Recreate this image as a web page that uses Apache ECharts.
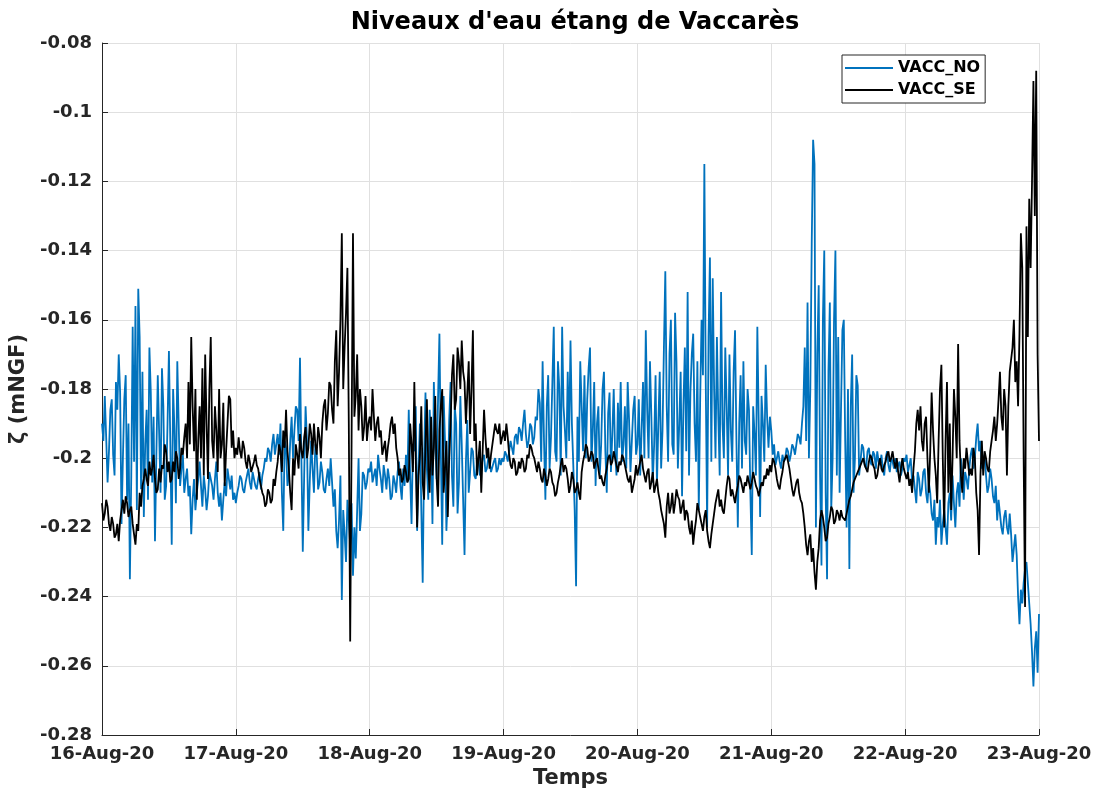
<!DOCTYPE html>
<html>
<head>
<meta charset="utf-8">
<title>Niveaux d'eau étang de Vaccarès</title>
<script src="https://cdn.jsdelivr.net/npm/echarts@6/dist/echarts.min.js"></script>
<style>
  html, body { margin: 0; padding: 0; background: #ffffff; }
  #chart { width: 1102px; height: 792px; }
</style>
</head>
<body>
<div id="chart"></div>
<script>
// Water level (m NGF) at the two Vaccarès stations, one reading every 15 minutes
// starting 16-Aug-2020 00:00 (96 readings per day, one row = 3 hours).
const STEP_HOURS = 0.25;

const DAY_LABELS = ['16-Aug-20', '17-Aug-20', '18-Aug-20', '19-Aug-20',
                    '20-Aug-20', '21-Aug-20', '22-Aug-20', '23-Aug-20'];

const VACC_NO = [
  // 16-Aug
  -0.190,-0.195,-0.182,-0.194,-0.207,-0.198,-0.186,-0.183,-0.199,-0.205,-0.178,-0.186,
  -0.170,-0.181,-0.219,-0.200,-0.183,-0.176,-0.212,-0.190,-0.235,-0.205,-0.162,-0.201,
  -0.156,-0.215,-0.151,-0.165,-0.209,-0.175,-0.217,-0.196,-0.186,-0.212,-0.168,-0.181,
  -0.207,-0.188,-0.224,-0.199,-0.176,-0.193,-0.210,-0.174,-0.185,-0.212,-0.208,-0.190,
  -0.169,-0.196,-0.225,-0.180,-0.192,-0.213,-0.172,-0.190,-0.208,-0.203,-0.199,-0.210,
  -0.206,-0.203,-0.211,-0.208,-0.222,-0.212,-0.206,-0.215,-0.210,-0.206,-0.201,-0.208,
  -0.214,-0.205,-0.209,-0.215,-0.211,-0.204,-0.206,-0.208,-0.212,-0.206,-0.201,-0.210,
  -0.214,-0.210,-0.218,-0.212,-0.207,-0.211,-0.203,-0.206,-0.209,-0.205,-0.212,-0.210,
  // 17-Aug
  -0.213,-0.210,-0.208,-0.205,-0.206,-0.209,-0.210,-0.207,-0.205,-0.203,-0.207,-0.209,
  -0.204,-0.206,-0.208,-0.209,-0.206,-0.204,-0.209,-0.205,-0.203,-0.200,-0.201,-0.197,
  -0.198,-0.201,-0.196,-0.193,-0.199,-0.196,-0.193,-0.199,-0.190,-0.210,-0.221,-0.195,
  -0.197,-0.208,-0.205,-0.195,-0.188,-0.200,-0.192,-0.185,-0.186,-0.195,-0.171,-0.200,
  -0.227,-0.205,-0.185,-0.195,-0.221,-0.207,-0.195,-0.203,-0.210,-0.196,-0.199,-0.209,
  -0.207,-0.201,-0.204,-0.209,-0.210,-0.206,-0.203,-0.208,-0.200,-0.207,-0.214,-0.209,
  -0.221,-0.226,-0.218,-0.205,-0.241,-0.215,-0.222,-0.230,-0.212,-0.218,-0.225,-0.213,
  -0.234,-0.220,-0.229,-0.215,-0.200,-0.221,-0.216,-0.204,-0.205,-0.209,-0.207,-0.203,
  // 18-Aug
  -0.204,-0.201,-0.207,-0.205,-0.203,-0.208,-0.199,-0.203,-0.206,-0.210,-0.202,-0.205,
  -0.209,-0.203,-0.206,-0.212,-0.211,-0.205,-0.207,-0.210,-0.204,-0.201,-0.208,-0.212,
  -0.203,-0.208,-0.199,-0.207,-0.186,-0.205,-0.219,-0.196,-0.198,-0.185,-0.221,-0.203,
  -0.190,-0.215,-0.236,-0.200,-0.181,-0.203,-0.212,-0.186,-0.194,-0.219,-0.178,-0.196,
  -0.206,-0.183,-0.164,-0.198,-0.225,-0.182,-0.195,-0.221,-0.210,-0.189,-0.178,-0.205,
  -0.214,-0.185,-0.190,-0.216,-0.207,-0.182,-0.196,-0.212,-0.228,-0.201,-0.189,-0.210,
  -0.204,-0.197,-0.198,-0.205,-0.206,-0.201,-0.200,-0.205,-0.203,-0.200,-0.199,-0.204,
  -0.203,-0.200,-0.201,-0.204,-0.204,-0.201,-0.200,-0.204,-0.203,-0.200,-0.202,-0.200,
  // 19-Aug
  -0.201,-0.198,-0.199,-0.201,-0.198,-0.195,-0.197,-0.199,-0.194,-0.193,-0.196,-0.191,
  -0.192,-0.195,-0.190,-0.186,-0.193,-0.197,-0.195,-0.190,-0.191,-0.196,-0.194,-0.188,
  -0.189,-0.180,-0.184,-0.201,-0.172,-0.195,-0.212,-0.185,-0.176,-0.203,-0.194,-0.178,
  -0.162,-0.198,-0.201,-0.172,-0.180,-0.205,-0.162,-0.185,-0.192,-0.200,-0.175,-0.195,
  -0.166,-0.190,-0.202,-0.215,-0.237,-0.188,-0.201,-0.172,-0.185,-0.198,-0.176,-0.200,
  -0.183,-0.174,-0.168,-0.201,-0.192,-0.178,-0.208,-0.190,-0.185,-0.205,-0.196,-0.180,
  -0.175,-0.198,-0.210,-0.187,-0.181,-0.204,-0.193,-0.180,-0.199,-0.205,-0.184,-0.197,
  -0.178,-0.201,-0.196,-0.185,-0.203,-0.178,-0.189,-0.204,-0.195,-0.186,-0.182,-0.199,
  // 20-Aug
  -0.196,-0.183,-0.205,-0.192,-0.178,-0.200,-0.163,-0.186,-0.200,-0.172,-0.188,-0.207,
  -0.196,-0.176,-0.208,-0.190,-0.175,-0.203,-0.192,-0.168,-0.146,-0.185,-0.201,-0.170,
  -0.160,-0.196,-0.199,-0.158,-0.172,-0.203,-0.190,-0.175,-0.211,-0.185,-0.168,-0.198,
  -0.152,-0.205,-0.181,-0.170,-0.164,-0.190,-0.201,-0.172,-0.215,-0.183,-0.160,-0.176,
  -0.115,-0.178,-0.220,-0.165,-0.142,-0.201,-0.148,-0.180,-0.200,-0.165,-0.188,-0.205,
  -0.152,-0.190,-0.200,-0.168,-0.185,-0.205,-0.170,-0.192,-0.201,-0.175,-0.163,-0.195,
  -0.220,-0.190,-0.176,-0.203,-0.172,-0.195,-0.199,-0.180,-0.186,-0.210,-0.228,-0.185,
  -0.193,-0.205,-0.162,-0.190,-0.217,-0.182,-0.190,-0.201,-0.173,-0.188,-0.197,-0.188,
  // 21-Aug
  -0.192,-0.199,-0.196,-0.202,-0.200,-0.198,-0.201,-0.203,-0.199,-0.201,-0.200,-0.197,
  -0.198,-0.201,-0.199,-0.196,-0.197,-0.199,-0.196,-0.193,-0.194,-0.196,-0.190,-0.185,
  -0.168,-0.195,-0.155,-0.200,-0.180,-0.138,-0.108,-0.115,-0.220,-0.170,-0.150,-0.205,
  -0.231,-0.160,-0.140,-0.210,-0.235,-0.175,-0.155,-0.215,-0.200,-0.160,-0.140,-0.205,
  -0.165,-0.210,-0.186,-0.163,-0.160,-0.195,-0.220,-0.180,-0.232,-0.185,-0.170,-0.210,
  -0.200,-0.176,-0.179,-0.205,-0.201,-0.196,-0.197,-0.202,-0.203,-0.198,-0.197,-0.201,
  -0.202,-0.198,-0.199,-0.203,-0.198,-0.201,-0.202,-0.199,-0.203,-0.205,-0.200,-0.198,
  -0.202,-0.204,-0.200,-0.201,-0.203,-0.200,-0.204,-0.202,-0.201,-0.205,-0.203,-0.200,
  // 22-Aug
  -0.201,-0.199,-0.204,-0.202,-0.200,-0.207,-0.205,-0.209,-0.213,-0.204,-0.206,-0.211,
  -0.209,-0.204,-0.203,-0.210,-0.213,-0.207,-0.210,-0.216,-0.218,-0.212,-0.225,-0.217,
  -0.220,-0.212,-0.225,-0.219,-0.215,-0.220,-0.225,-0.213,-0.210,-0.218,-0.205,-0.213,
  -0.220,-0.210,-0.207,-0.214,-0.200,-0.205,-0.212,-0.204,-0.206,-0.209,-0.203,-0.199,
  -0.197,-0.203,-0.200,-0.194,-0.190,-0.198,-0.195,-0.203,-0.201,-0.199,-0.205,-0.210,
  -0.208,-0.203,-0.206,-0.211,-0.213,-0.208,-0.218,-0.212,-0.216,-0.220,-0.222,-0.217,
  -0.215,-0.220,-0.222,-0.216,-0.222,-0.230,-0.226,-0.222,-0.228,-0.240,-0.248,-0.238,
  -0.242,-0.236,-0.232,-0.230,-0.236,-0.242,-0.248,-0.256,-0.266,-0.255,-0.250,-0.262,
  // 23-Aug 00:00
  -0.245
];

const VACC_SE = [
  // 16-Aug
  -0.213,-0.218,-0.216,-0.212,-0.214,-0.219,-0.221,-0.217,-0.219,-0.223,-0.222,-0.219,
  -0.224,-0.218,-0.215,-0.212,-0.216,-0.211,-0.213,-0.217,-0.215,-0.214,-0.219,-0.222,
  -0.225,-0.219,-0.221,-0.210,-0.214,-0.208,-0.206,-0.203,-0.206,-0.208,-0.201,-0.205,
  -0.203,-0.199,-0.206,-0.210,-0.209,-0.203,-0.207,-0.202,-0.203,-0.196,-0.198,-0.204,
  -0.201,-0.207,-0.206,-0.201,-0.204,-0.198,-0.200,-0.206,-0.203,-0.197,-0.199,-0.194,
  -0.190,-0.200,-0.178,-0.196,-0.165,-0.185,-0.198,-0.180,-0.212,-0.195,-0.185,-0.200,
  -0.174,-0.205,-0.170,-0.190,-0.206,-0.180,-0.165,-0.195,-0.200,-0.185,-0.192,-0.204,
  -0.180,-0.200,-0.196,-0.184,-0.208,-0.198,-0.190,-0.182,-0.183,-0.197,-0.192,-0.200,
  // 17-Aug
  -0.197,-0.199,-0.194,-0.198,-0.200,-0.195,-0.197,-0.201,-0.203,-0.199,-0.201,-0.204,
  -0.204,-0.201,-0.199,-0.202,-0.203,-0.206,-0.208,-0.210,-0.211,-0.214,-0.213,-0.209,
  -0.210,-0.213,-0.212,-0.206,-0.208,-0.204,-0.201,-0.196,-0.198,-0.204,-0.192,-0.197,
  -0.186,-0.198,-0.203,-0.210,-0.215,-0.200,-0.205,-0.196,-0.199,-0.203,-0.193,-0.198,
  -0.200,-0.194,-0.191,-0.200,-0.197,-0.190,-0.193,-0.199,-0.190,-0.196,-0.199,-0.191,
  -0.194,-0.200,-0.190,-0.185,-0.183,-0.192,-0.187,-0.178,-0.179,-0.186,-0.190,-0.172,
  -0.163,-0.185,-0.175,-0.160,-0.135,-0.180,-0.168,-0.158,-0.145,-0.190,-0.253,-0.195,
  -0.135,-0.188,-0.182,-0.170,-0.192,-0.180,-0.185,-0.195,-0.191,-0.182,-0.195,-0.190,
  // 18-Aug
  -0.188,-0.192,-0.180,-0.188,-0.195,-0.190,-0.188,-0.194,-0.192,-0.199,-0.197,-0.195,
  -0.201,-0.197,-0.194,-0.190,-0.188,-0.193,-0.190,-0.197,-0.200,-0.205,-0.203,-0.207,
  -0.206,-0.202,-0.204,-0.207,-0.206,-0.190,-0.196,-0.204,-0.178,-0.200,-0.220,-0.205,
  -0.199,-0.185,-0.207,-0.212,-0.196,-0.183,-0.203,-0.210,-0.188,-0.205,-0.197,-0.182,
  -0.206,-0.214,-0.192,-0.185,-0.180,-0.210,-0.203,-0.195,-0.217,-0.200,-0.190,-0.176,
  -0.170,-0.186,-0.183,-0.168,-0.172,-0.180,-0.166,-0.175,-0.178,-0.190,-0.181,-0.172,
  -0.193,-0.180,-0.163,-0.195,-0.190,-0.205,-0.200,-0.195,-0.210,-0.198,-0.186,-0.194,
  -0.200,-0.197,-0.203,-0.199,-0.199,-0.193,-0.190,-0.192,-0.193,-0.190,-0.196,-0.194,
  // 19-Aug
  -0.192,-0.195,-0.190,-0.194,-0.199,-0.202,-0.203,-0.200,-0.201,-0.205,-0.204,-0.201,
  -0.203,-0.200,-0.201,-0.204,-0.203,-0.199,-0.200,-0.196,-0.197,-0.199,-0.200,-0.202,
  -0.204,-0.201,-0.203,-0.206,-0.207,-0.203,-0.205,-0.208,-0.206,-0.203,-0.204,-0.207,
  -0.208,-0.211,-0.210,-0.207,-0.205,-0.202,-0.200,-0.204,-0.202,-0.203,-0.206,-0.210,
  -0.208,-0.204,-0.206,-0.210,-0.209,-0.207,-0.210,-0.212,-0.204,-0.201,-0.199,-0.196,
  -0.197,-0.201,-0.200,-0.198,-0.199,-0.203,-0.201,-0.200,-0.203,-0.206,-0.205,-0.207,
  -0.208,-0.205,-0.203,-0.200,-0.199,-0.202,-0.201,-0.198,-0.200,-0.202,-0.204,-0.201,
  -0.202,-0.199,-0.200,-0.202,-0.204,-0.206,-0.207,-0.205,-0.210,-0.208,-0.206,-0.202,
  // 20-Aug
  -0.205,-0.203,-0.201,-0.199,-0.203,-0.205,-0.207,-0.204,-0.203,-0.209,-0.207,-0.204,
  -0.210,-0.208,-0.206,-0.210,-0.212,-0.215,-0.217,-0.219,-0.223,-0.214,-0.210,-0.216,
  -0.214,-0.210,-0.216,-0.213,-0.209,-0.211,-0.212,-0.216,-0.214,-0.212,-0.218,-0.215,
  -0.216,-0.220,-0.222,-0.218,-0.225,-0.221,-0.218,-0.213,-0.215,-0.217,-0.219,-0.221,
  -0.217,-0.215,-0.221,-0.224,-0.226,-0.222,-0.219,-0.216,-0.213,-0.211,-0.209,-0.214,
  -0.212,-0.215,-0.216,-0.212,-0.208,-0.205,-0.206,-0.211,-0.209,-0.211,-0.213,-0.210,
  -0.208,-0.205,-0.206,-0.208,-0.210,-0.207,-0.208,-0.205,-0.205,-0.209,-0.207,-0.204,
  -0.206,-0.208,-0.209,-0.211,-0.211,-0.207,-0.208,-0.205,-0.206,-0.203,-0.205,-0.202,
  // 21-Aug
  -0.204,-0.200,-0.201,-0.203,-0.206,-0.208,-0.209,-0.206,-0.204,-0.201,-0.200,-0.199,
  -0.201,-0.203,-0.206,-0.209,-0.211,-0.209,-0.207,-0.206,-0.210,-0.212,-0.213,-0.216,
  -0.220,-0.225,-0.228,-0.224,-0.222,-0.230,-0.226,-0.233,-0.238,-0.230,-0.226,-0.218,
  -0.215,-0.217,-0.220,-0.224,-0.223,-0.219,-0.217,-0.214,-0.215,-0.219,-0.218,-0.215,
  -0.216,-0.218,-0.215,-0.217,-0.217,-0.218,-0.216,-0.214,-0.212,-0.211,-0.209,-0.207,
  -0.206,-0.205,-0.204,-0.203,-0.203,-0.201,-0.200,-0.202,-0.203,-0.204,-0.201,-0.199,
  -0.200,-0.202,-0.203,-0.206,-0.205,-0.202,-0.200,-0.203,-0.204,-0.202,-0.201,-0.199,
  -0.198,-0.201,-0.200,-0.198,-0.201,-0.203,-0.200,-0.204,-0.207,-0.203,-0.200,-0.203,
  // 22-Aug
  -0.203,-0.206,-0.204,-0.208,-0.206,-0.210,-0.203,-0.198,-0.190,-0.186,-0.192,-0.185,
  -0.195,-0.198,-0.190,-0.188,-0.200,-0.210,-0.198,-0.181,-0.192,-0.200,-0.205,-0.213,
  -0.195,-0.180,-0.173,-0.200,-0.220,-0.195,-0.178,-0.210,-0.190,-0.215,-0.200,-0.180,
  -0.188,-0.200,-0.167,-0.195,-0.205,-0.210,-0.200,-0.203,-0.197,-0.201,-0.205,-0.203,
  -0.205,-0.197,-0.200,-0.210,-0.215,-0.228,-0.205,-0.195,-0.205,-0.198,-0.200,-0.203,
  -0.204,-0.198,-0.195,-0.192,-0.188,-0.195,-0.190,-0.183,-0.175,-0.188,-0.192,-0.180,
  -0.185,-0.205,-0.185,-0.175,-0.175,-0.168,-0.160,-0.178,-0.172,-0.185,-0.164,-0.135,
  -0.145,-0.200,-0.243,-0.133,-0.165,-0.125,-0.145,-0.120,-0.091,-0.130,-0.088,-0.170,
  // 23-Aug 00:00
  -0.195
];

const toPairs = vals => vals.map((v, i) => [i * STEP_HOURS, v]);

const FONT = 'DejaVu Sans';
const INK = '#262626';

const chart = echarts.init(document.getElementById('chart'), null, { renderer: 'canvas' });

chart.setOption({
  backgroundColor: '#ffffff',
  animation: false,
  title: {
    text: "Niveaux d'eau étang de Vaccarès",
    left: 570,
    top: 6,
    textAlign: 'center',
    textStyle: { fontFamily: FONT, fontWeight: 'bold', fontSize: 24, color: '#000000' }
  },
  legend: {
    orient: 'vertical',
    left: 842,
    top: 55,
    padding: [3, 5, 3, 3],
    itemGap: 2,
    itemWidth: 48,
    itemHeight: 2,
    icon: 'rect',
    backgroundColor: '#ffffff',
    borderColor: INK,
    borderWidth: 1,
    borderRadius: 0,
    textStyle: { fontFamily: FONT, fontWeight: 'bold', fontSize: 16, color: '#000000', lineHeight: 20 },
    data: ['VACC_NO', 'VACC_SE']
  },
  grid: {
    left: 102, right: 63, top: 43, bottom: 57,
    containLabel: false,
    outerBoundsMode: 'none'
  },
  xAxis: {
    type: 'value',
    min: 0,
    max: 168,
    interval: 24,
    name: 'Temps',
    nameLocation: 'middle',
    nameGap: 31,
    nameTextStyle: { fontFamily: FONT, fontWeight: 'bold', fontSize: 21, color: INK },
    axisLine: { show: true, lineStyle: { color: INK, width: 1 } },
    axisTick: { show: true, inside: true, length: 6, lineStyle: { color: INK } },
    axisLabel: {
      margin: 10,
      fontFamily: FONT, fontWeight: 'bold', fontSize: 18, color: INK,
      showMinLabel: true, showMaxLabel: true,
      formatter: v => DAY_LABELS[Math.round(v / 24)] || ''
    },
    splitLine: { show: true, lineStyle: { color: '#e0e0e0', width: 1 } }
  },
  yAxis: {
    type: 'value',
    min: -0.28,
    max: -0.08,
    interval: 0.02,
    name: 'ζ (mNGF)',
    nameLocation: 'middle',
    nameGap: 68,
    nameRotate: 90,
    nameTextStyle: { fontFamily: FONT, fontWeight: 'bold', fontSize: 21, color: INK },
    axisLine: { show: true, lineStyle: { color: INK, width: 1 } },
    axisTick: { show: true, inside: true, length: 6, lineStyle: { color: INK } },
    axisLabel: {
      margin: 10,
      fontFamily: FONT, fontWeight: 'bold', fontSize: 18, color: INK,
      formatter: v => String(+v.toFixed(2))
    },
    splitLine: { show: true, lineStyle: { color: '#e0e0e0', width: 1 } }
  },
  series: [
    {
      name: 'VACC_NO',
      type: 'line',
      data: toPairs(VACC_NO),
      symbol: 'none',
      color: '#0072BD',
      lineStyle: { color: '#0072BD', width: 1.8 },
      emphasis: { disabled: true },
      clip: true,
      z: 2
    },
    {
      name: 'VACC_SE',
      type: 'line',
      data: toPairs(VACC_SE),
      symbol: 'none',
      color: '#000000',
      lineStyle: { color: '#000000', width: 1.8 },
      emphasis: { disabled: true },
      clip: true,
      z: 3
    }
  ]
});
</script>
</body>
</html>
